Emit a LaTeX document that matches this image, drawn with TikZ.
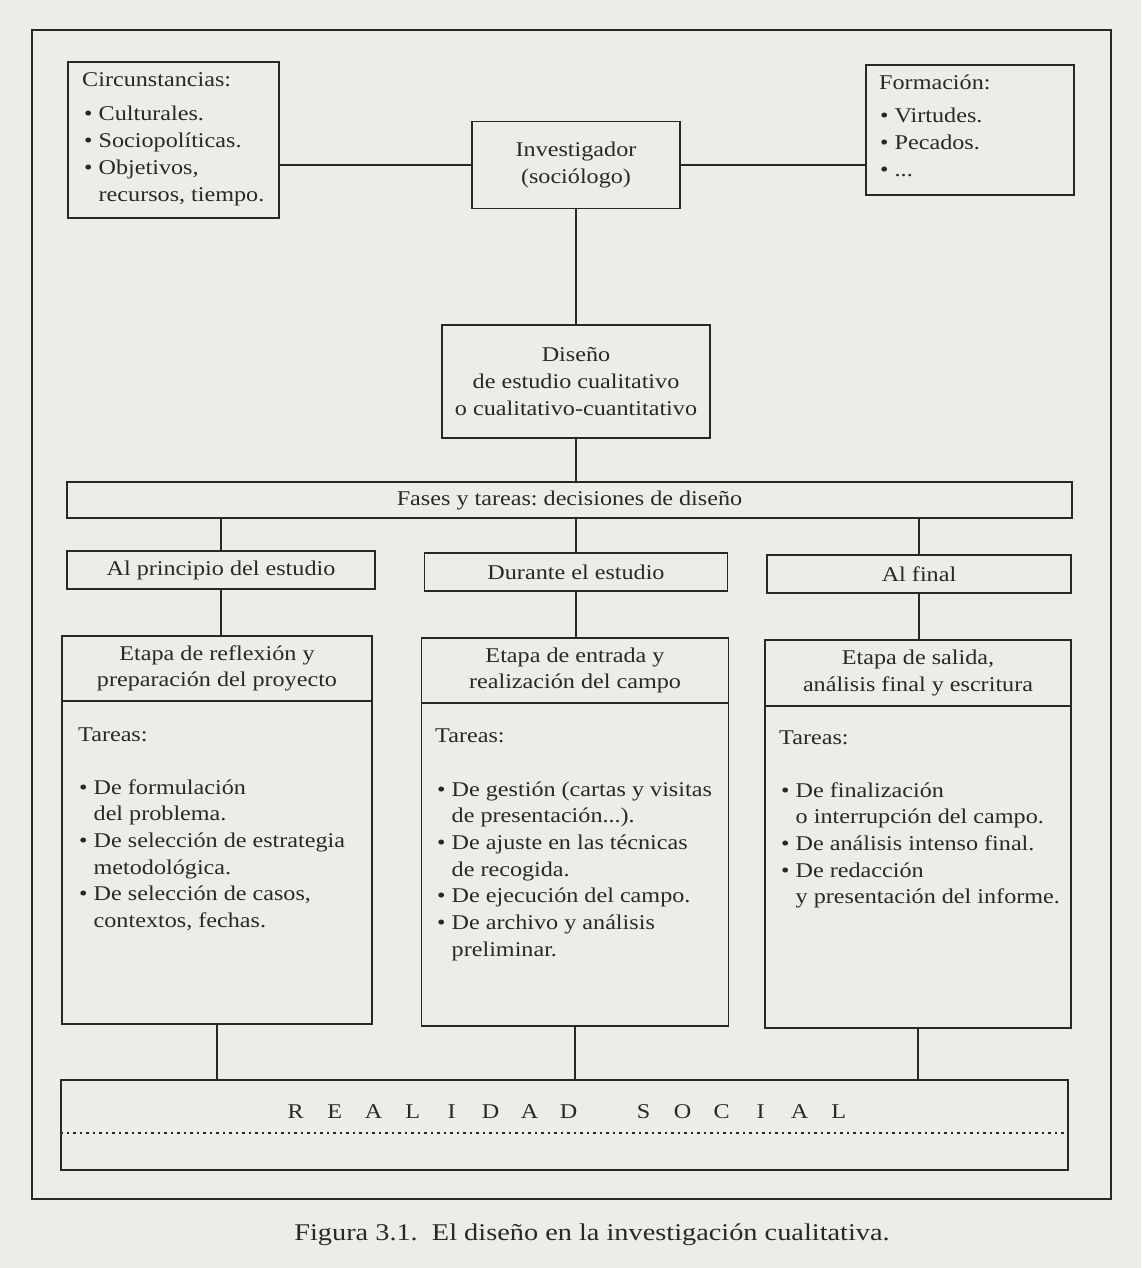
\documentclass[tikz,border=0pt]{standalone}
\usepackage{fontspec}
\setmainfont[FakeStretch=1.15]{Liberation Serif}
\newfontfamily\capfam[FakeStretch=1.18]{Liberation Serif}
\definecolor{paper}{RGB}{236,236,233}
\definecolor{ink}{RGB}{40,40,40}
\newcommand\bx{\fontsize{21}{26.7}\selectfont\frenchspacing}
\newcommand\capfont{\capfam\fontsize{24}{28}\selectfont\frenchspacing}
\newcommand\blt{\textbullet\ }
\newcommand\ind{\hphantom{\textbullet\ }}
\newcommand\lsp[1]{\makebox[39pt][c]{#1}}
\tikzset{
  box/.style={draw=ink, line width=1.8pt, rectangle, inner sep=0pt, align=center, font=\bx, text=ink},
  txt/.style={inner sep=0pt, align=left, anchor=base west, font=\bx, text=ink},
  link/.style={draw=ink, line width=1.8pt},
}
\begin{document}
\begin{tikzpicture}[x=1pt,y=-1pt]
\path[fill=paper] (0,0) rectangle (1141,1268);
\useasboundingbox (0,0) rectangle (1141,1268);

% outer frame
\node[box, minimum width=1079pt, minimum height=1169pt] (frame) at (571.5,614.5) {};

% top row
\node[box, minimum width=211pt, minimum height=156pt] (circ) at (173.5,140) {};
\node[txt] (circt) at (82,87) {Circunstancias:};
% multi-line text nodes: base anchor sits on the last line
\node[txt] (circl) at (84,201.1) {\blt Culturales.\\\blt Sociopolíticas.\\\blt Objetivos,\\\ind recursos, tiempo.};

\node[box, minimum width=208pt, minimum height=87pt] (inv) at (576,165) {Investigador\\(sociólogo)};

\node[box, minimum width=208pt, minimum height=130pt] (form) at (970,130) {};
\node[txt] (formt) at (879,90) {Formación:};
\node[txt] (forml) at (880,176.4) {\blt Virtudes.\\\blt Pecados.\\\blt ...};

\draw[link] (inv.west) -- (inv.west -| circ.east);
\draw[link] (inv.east) -- (inv.east -| form.west);

% design
\node[box, minimum width=268pt, minimum height=113pt] (dis) at (576,381.5) {Diseño\\de estudio cualitativo\\o cualitativo-cuantitativo};
\draw[link] (inv.south) -- (dis.north);

\node[box, minimum width=1005pt, minimum height=36pt] (fases) at (569.5,500) {Fases y tareas: decisiones de diseño};
\draw[link] (dis.south) -- (dis.south |- fases.north);

% phases
\node[box, minimum width=308pt, minimum height=38pt] (ap) at (221,570) {Al principio del estudio};
\node[box, minimum width=303pt, minimum height=38pt] (dur) at (576,572) {Durante el estudio};
\node[box, minimum width=304pt, minimum height=38pt] (af) at (919,574) {Al final};
\draw[link] (ap.north) -- (ap.north |- fases.south);
\draw[link] (dur.north) -- (dur.north |- fases.south);
\draw[link] (af.north) -- (af.north |- fases.south);

% stages
\node[box, minimum width=310pt, minimum height=65pt] (e1h) at (217,668.5) {Etapa de reflexión y\\preparación del proyecto};
\node[box, minimum width=310pt, minimum height=323pt] (e1b) at (217,862.5) {};
\node[box, minimum width=307pt, minimum height=65pt] (e2h) at (575,670.5) {Etapa de entrada y\\realización del campo};
\node[box, minimum width=307pt, minimum height=323pt] (e2b) at (575,864.5) {};
\node[box, minimum width=306pt, minimum height=66pt] (e3h) at (918,673) {Etapa de salida,\\análisis final y escritura};
\node[box, minimum width=306pt, minimum height=322pt] (e3b) at (918,867) {};

\draw[link] (ap.south) -- (ap.south |- e1h.north);
\draw[link] (dur.south) -- (dur.south |- e2h.north);
\draw[link] (af.south) -- (af.south |- e3h.north);

\node[txt] (t1) at (78,741) {Tareas:};
\node[txt] (l1) at (79,927.5) {\blt De formulación\\\ind del problema.\\\blt De selección de estrategia\\\ind metodológica.\\\blt De selección de casos,\\\ind contextos, fechas.};
\node[txt] (t2) at (435,742) {Tareas:};
\node[txt] (l2) at (437,956.2) {\blt De gestión (cartas y visitas\\\ind de presentación...).\\\blt De ajuste en las técnicas\\\ind de recogida.\\\blt De ejecución del campo.\\\blt De archivo y análisis\\\ind preliminar.};
\node[txt] (t3) at (779,744) {Tareas:};
\node[txt] (l3) at (781,903.8) {\blt De finalización\\\ind o interrupción del campo.\\\blt De análisis intenso final.\\\blt De redacción\\\ind y presentación del informe.};

% social reality
\node[box, minimum width=1007pt, minimum height=90pt] (real) at (564.5,1125) {};
\node[txt, font=\fontsize{21}{24}\selectfont] (realt) at (276,1118) {\lsp{R}\lsp{E}\lsp{A}\lsp{L}\lsp{I}\lsp{D}\lsp{A}\lsp{D}\hspace{36pt}\lsp{S}\lsp{O}\lsp{C}\lsp{I}\lsp{A}\lsp{L}};
\coordinate (dl) at (real.west |- 0,1133);
\coordinate (dr) at (real.east |- 0,1133);
\draw[draw=ink, line width=1.8pt, dash pattern=on 2.5pt off 4pt] (dl) -- (dr);

\draw[link] (e1b.south) -- (e1b.south |- real.north);
\draw[link] (e2b.south) -- (e2b.south |- real.north);
\draw[link] (e3b.south) -- (e3b.south |- real.north);

% caption
\node[inner sep=0pt, anchor=base, font=\capfont, text=ink] (cap) at (592,1240) {Figura 3.1.\ \ El diseño en la investigación cualitativa.};
\end{tikzpicture}
\end{document}
